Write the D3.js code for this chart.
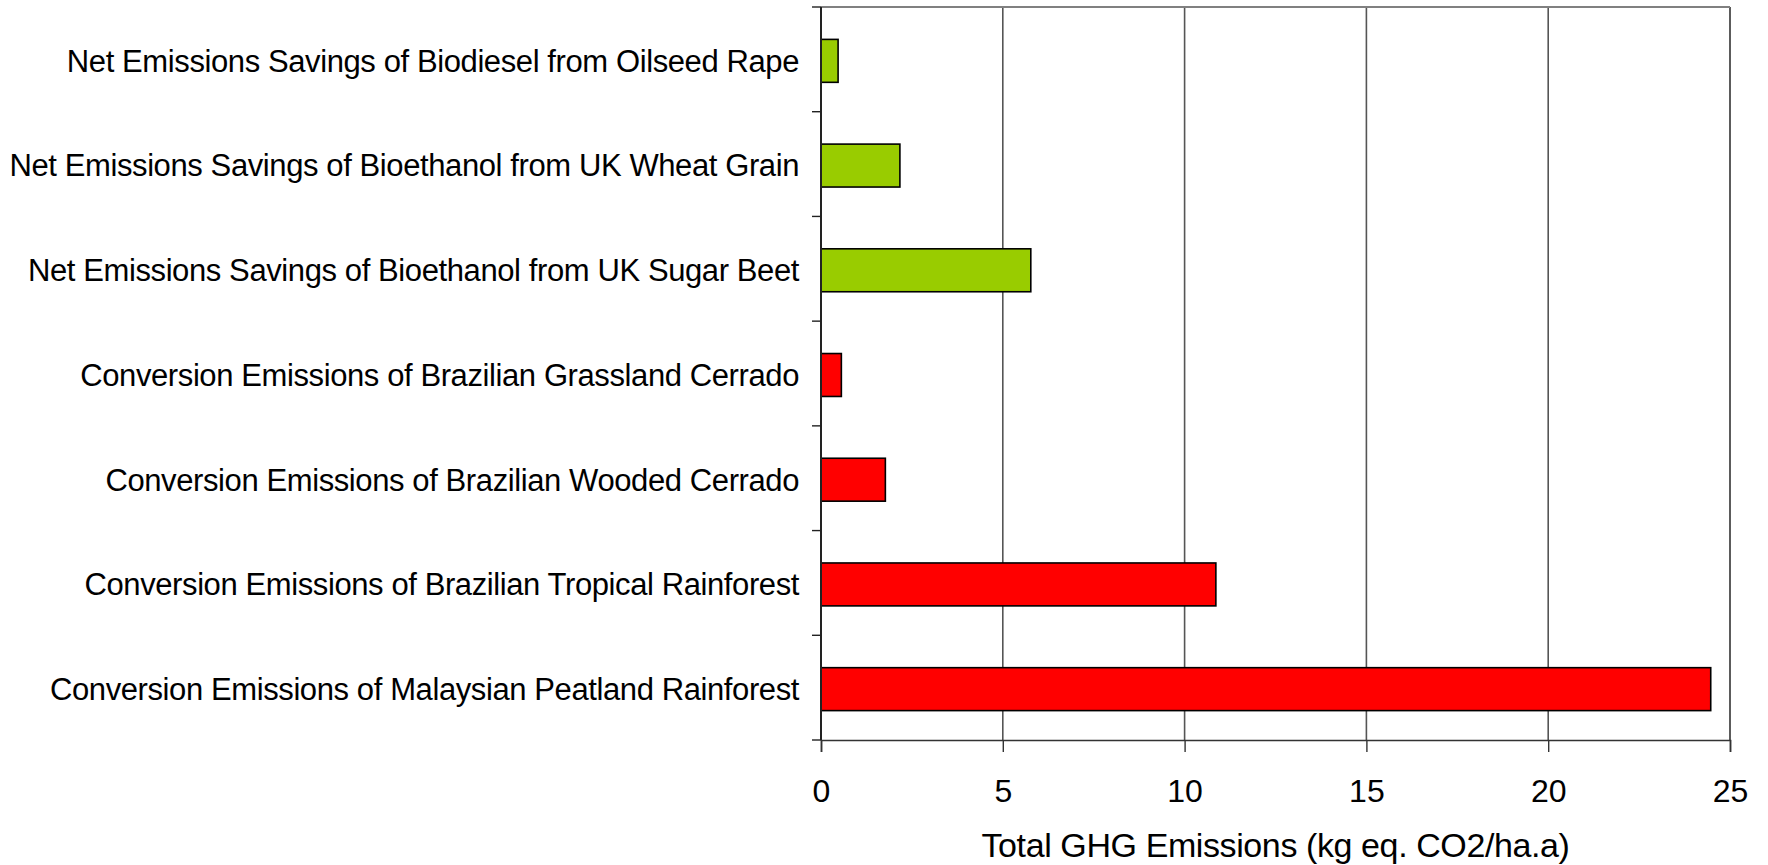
<!DOCTYPE html>
<html lang="en">
<head>
  <meta charset="UTF-8">
  <title>Total GHG Emissions</title>
  <style>
    body { margin: 0; background: #fff; }
    svg { display: block; font-family: "Liberation Sans", Arial, sans-serif; }
    .cat text { font-size: 31px; fill: #000; }
    .xax text { font-size: 32px; fill: #000; }
  </style>
</head>
<body>
  <svg width="1768" height="865"></svg>
  <script src="https://d3js.org/d3.v7.min.js"></script>
  <script>
    // categories top to bottom
    const categories = [
      "Net Emissions Savings of Biodiesel from Oilseed Rape",
      "Net Emissions Savings of Bioethanol from UK Wheat Grain",
      "Net Emissions Savings of Bioethanol from UK Sugar Beet",
      "Conversion Emissions of Brazilian Grassland Cerrado",
      "Conversion Emissions of Brazilian Wooded Cerrado",
      "Conversion Emissions of Brazilian Tropical Rainforest",
      "Conversion Emissions of Malaysian Peatland Rainforest"
    ];
    const values = [0.47, 2.17, 5.77, 0.56, 1.77, 10.86, 24.47];
    const kinds = ["saving", "saving", "saving", "conversion", "conversion", "conversion", "conversion"];
    const xTicks = [0, 5, 10, 15, 20, 25];
    const colors = { saving: "#99cc00", conversion: "#ff0000" };

    const m = { left: 821, right: 1730, top: 7, bottom: 740 };
    const svg = d3.select("svg");

    const x = d3.scaleLinear().domain([0, 25]).range([m.left, m.right]);
    const y = d3.scaleBand().domain(categories).range([m.top, m.bottom]).paddingInner(0.59).paddingOuter(0.295);

    // gridlines
    svg.append("g").selectAll("line")
      .data(xTicks.slice(1))
      .join("line")
      .attr("x1", d => x(d)).attr("x2", d => x(d))
      .attr("y1", m.top).attr("y2", m.bottom)
      .attr("stroke", d => d === 25 ? "#333" : "#555")
      .attr("stroke-width", 1.6);

    // top border
    svg.append("line")
      .attr("x1", m.left).attr("x2", m.right)
      .attr("y1", m.top).attr("y2", m.top)
      .attr("stroke", "#808080").attr("stroke-width", 2);

    // bars
    svg.append("g").selectAll("rect")
      .data(values)
      .join("rect")
      .attr("x", x(0))
      .attr("y", (d, i) => y(categories[i]) + 1.5)
      .attr("width", d => x(d) - x(0))
      .attr("height", y.bandwidth())
      .attr("fill", (d, i) => colors[kinds[i]])
      .attr("stroke", "#000")
      .attr("stroke-width", 1.6);

    // x axis
    const xAxis = svg.append("g")
      .attr("class", "xax")
      .attr("transform", `translate(0,${m.bottom})`)
      .call(d3.axisBottom(x).tickValues(xTicks).tickSize(12).tickPadding(16));
    xAxis.select(".domain").attr("stroke", "#333").attr("stroke-width", 1.6);
    xAxis.selectAll(".tick line").attr("stroke", "#333").attr("stroke-width", 1.4);
    xAxis.selectAll("text").attr("dy", 0).attr("y", 62);

    // y axis: ticks sit on the category boundaries
    const bounds = d3.range(categories.length + 1).map(i => m.top + i * y.step());
    const yAx = svg.append("g").attr("class", "cat");
    yAx.append("line")
      .attr("x1", m.left).attr("x2", m.left)
      .attr("y1", m.top).attr("y2", m.bottom)
      .attr("stroke", "#222").attr("stroke-width", 2);
    yAx.selectAll(".tk")
      .data(bounds)
      .join("line")
      .attr("class", "tk")
      .attr("x1", m.left - 9).attr("x2", m.left)
      .attr("y1", d => d).attr("y2", d => d)
      .attr("stroke", "#222").attr("stroke-width", 1.4);
    yAx.selectAll("text")
      .data(categories)
      .join("text")
      .attr("x", m.left - 22)
      .attr("y", d => y(d) + y.bandwidth() / 2 + 1.5)
      .attr("dy", "0.35em")
      .attr("text-anchor", "end")
      .attr("letter-spacing", "-0.4px")
      .text(d => d);

    // axis title
    svg.append("text")
      .attr("x", (m.left + m.right) / 2)
      .attr("y", 857)
      .attr("text-anchor", "middle")
      .attr("font-size", 34)
      .attr("letter-spacing", "-0.4px")
      .text("Total GHG Emissions (kg eq. CO2/ha.a)");
  </script>
</body>
</html>
